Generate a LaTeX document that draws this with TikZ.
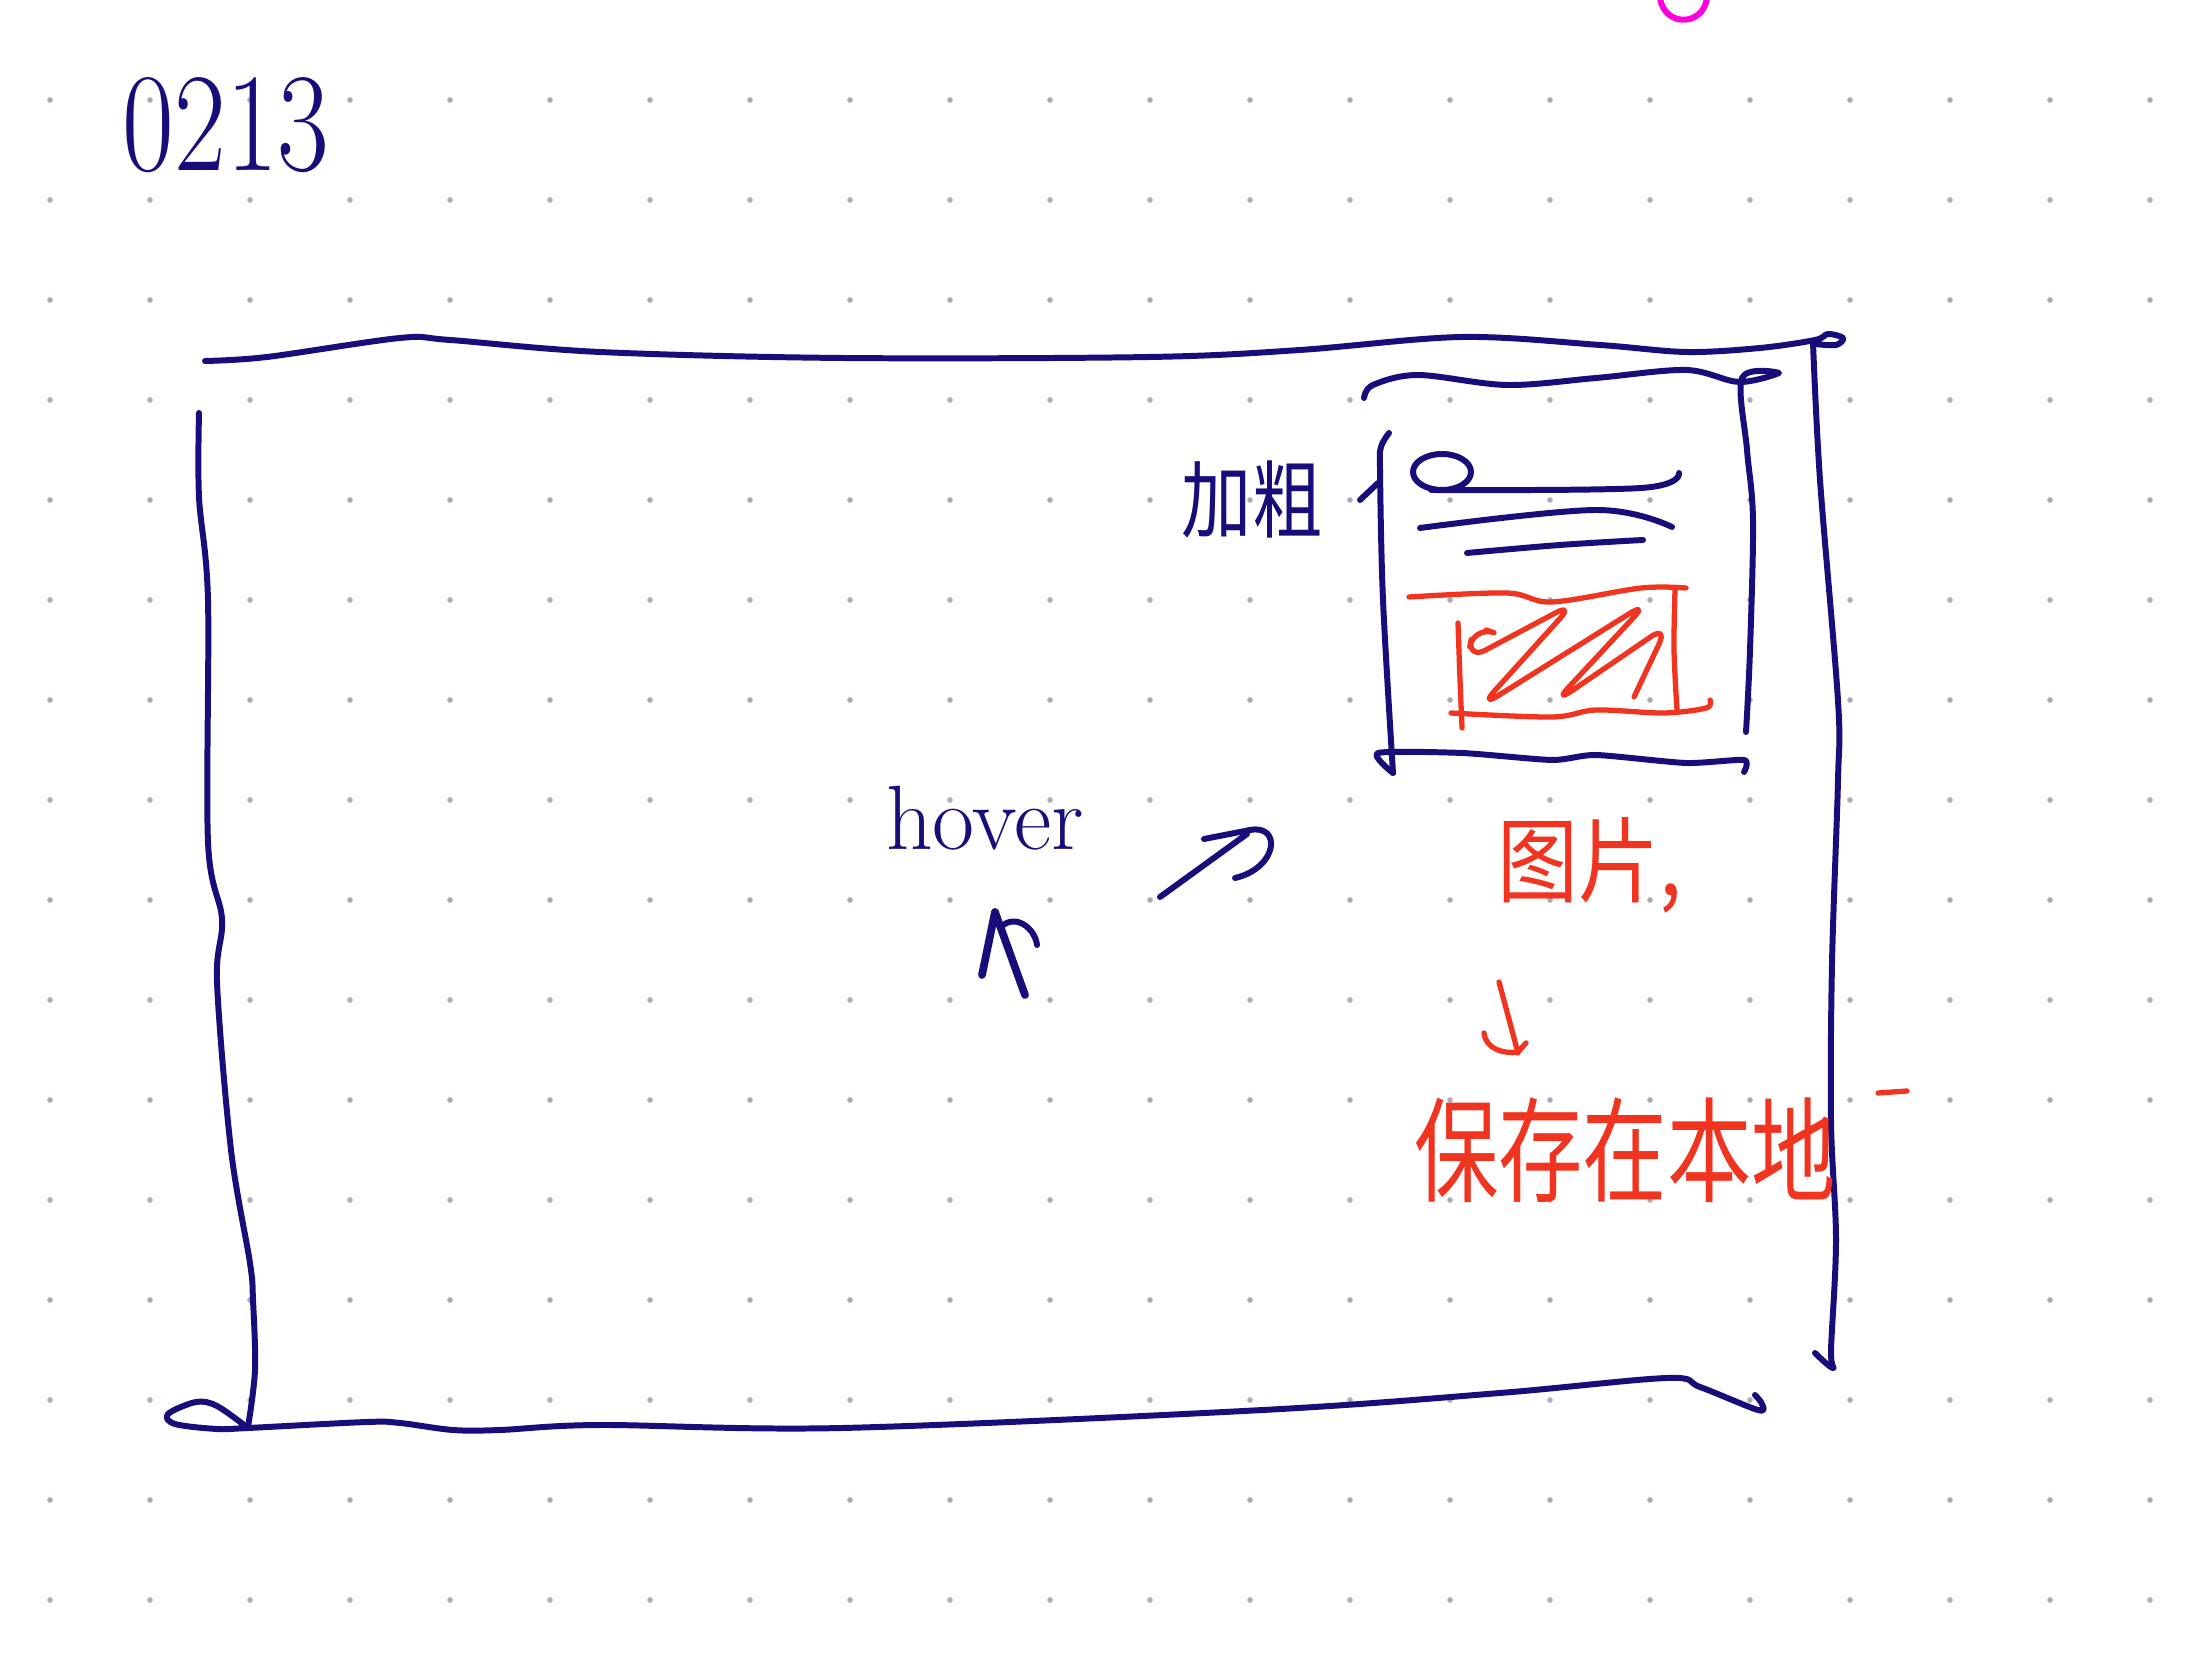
\documentclass[tikz,border=0pt]{standalone}
\usepackage{graphicx}
\usepackage{fontspec}
\newfontfamily\cjk{Noto Sans CJK SC}
\definecolor{inkblue}{RGB}{24,14,122}
\definecolor{inkred}{RGB}{240,52,32}
\definecolor{inkpink}{RGB}{255,0,220}
\definecolor{dotgrey}{RGB}{170,172,184}
\tikzset{
  navyline/.style={draw=inkblue, line width=1.7pt, line cap=round, line join=round},
  redline/.style={draw=inkred, line width=1.5pt, line cap=round, line join=round},
  navytext/.style={text=inkblue, inner sep=0pt},
  redtext/.style={text=inkred, inner sep=0pt},
}
\begin{document}
\begin{tikzpicture}[x=0.01cm,y=-0.01cm]
\useasboundingbox (0,0) rectangle (2200,1677);
\fill[white] (0,0) rectangle (2200,1677);
% dot grid
\foreach \i in {0,...,21}{
  \foreach \j in {1,...,16}{
    \fill[dotgrey] (50+100*\i,100*\j) circle (0.8pt);
  }
}
% magenta arc at top edge
\draw[draw=inkpink, line width=1.7pt] (1660,-2) .. controls (1664,27) and (1703,27) .. (1707,-2);

% date
\node[navytext, font=\fontsize{32}{32}\selectfont] (date) at (226,125) {\scalebox{1}[1.25]{0213}};

% big frame
\draw[navyline] plot[smooth, tension=0.55] coordinates {(205,361) (267,357) (400,338) (450,340) (600,352) (842,358) (1150,357) (1300,350) (1462,337) (1600,345) (1686,352) (1760,348) (1815,340) (1828,334) (1843,338) (1836,345) (1815,344)};
\draw[navyline] plot[smooth, tension=0.55] coordinates {(1813,343) (1820,480) (1838,701) (1838,780) (1832,963) (1831,1122) (1836,1240) (1831,1350) (1833,1368) (1815,1353)};
\draw[navyline] plot[smooth, tension=0.55] coordinates {(199,413) (199,497) (208,600) (208,842) (222,919) (217,982) (231,1150) (250,1263) (253,1300) (255,1370) (248,1427)};
\draw[navyline] plot[smooth, tension=0.55] coordinates {(248,1428) (217,1406) (196,1402) (168,1414) (175,1424) (217,1429) (248,1428) (367,1422) (400,1423) (453,1430) (500,1430) (600,1425) (842,1428) (1263,1410) (1500,1393) (1667,1378) (1700,1387) (1758,1410) (1762,1404) (1755,1395)};

% inner panel
\draw[navyline] plot[smooth, tension=0.55] coordinates {(1364,398) (1373,385) (1418,375) (1507,385) (1596,378) (1686,370) (1739,382) (1779,373) (1742,378) (1747,450) (1753,520) (1750,650) (1746,732)};
\draw[navyline] plot[smooth, tension=0.55] coordinates {(1389,433) (1381,447) (1380,470) (1383,600) (1393,773)};
\draw[navyline] plot[smooth, tension=0.4] coordinates {(1393,773) (1378,753) (1462,753) (1552,760) (1596,755) (1686,763) (1744,760) (1744,772)};
% text lines in panel
\draw[navyline] (1442,472) ellipse [x radius=29, y radius=18];
\draw[navyline] plot[smooth, tension=0.6] coordinates {(1431,490) (1641,488) (1679,473)};
\draw[navyline] plot[smooth, tension=0.6] coordinates {(1420,528) (1596,510) (1672,527)};
\draw[navyline] plot[smooth, tension=0.6] coordinates {(1467,553) (1560,545) (1643,540)};
% picture placeholder (red)
\draw[redline] plot[smooth, tension=0.55] coordinates {(1409,597) (1507,593) (1552,602) (1641,588) (1686,588)};
\draw[redline] plot[smooth, tension=0.55] coordinates {(1675,590) (1674,650) (1677,710)};
\draw[redline] plot[smooth, tension=0.55] coordinates {(1451,713) (1552,717) (1596,710) (1663,713) (1706,708) (1710,700)};
\draw[redline] plot[smooth, tension=0.55] coordinates {(1458,623) (1460,680) (1462,728)};
\draw[redline, rounded corners=6] (1486,630) -- (1474,626) -- (1467,660) -- (1574,603) -- (1480,707) -- (1648,602) -- (1554,703) -- (1668,625) -- (1634,697);

% label 加粗
\node[navytext, font=\cjk\fontsize{20}{20}\selectfont] (boldlbl) at (1252,500) {\scalebox{1}[1.2]{加粗}};
\coordinate (tickA) at (1360,500);
\coordinate (tickB) at (1378,483);
\draw[navyline] (tickA) -- (tickB);

% hover
\node[navytext, font=\fontsize{26}{26}\selectfont] (hover) at (985,818) {hover};
\coordinate (hovA) at (1160,897);
\coordinate (hovB) at (1247,834);
\draw[navyline] (hovA) -- (hovB);
\draw[navyline] (1204,839) -- (1250,830) .. controls (1282,824) and (1278,868) .. (1235,878);
% cursor mark under hover
\coordinate (curL) at (982,975);
\coordinate (curT) at (995,912);
\coordinate (curR) at (1025,995);
\draw[navyline, line width=2.2pt] (curL) -- (curT) -- (curR);
\draw[navyline] (1001,927) .. controls (1015,913) and (1035,928) .. (1037,945);

% 图片 and 保存在本地
\node[redtext, font=\cjk\fontsize{23}{23}\selectfont] (piclbl) at (1590,865) {\scalebox{1}[1.15]{图片,}};
\node[redtext, font=\cjk\fontsize{24}{24}\selectfont] (savelbl) at (1625,1150) {\scalebox{1}[1.35]{保存在本地}};
\coordinate (arrA) at (1499,982);
\coordinate (arrB) at (1518,1053);
\draw[redline] (arrA) -- (arrB);
\draw[redline] (1484,1033) .. controls (1486,1050) and (1505,1054) .. (1518,1052) -- (1526,1043);
\draw[redline] (1878,1093) -- (1907,1091);
\end{tikzpicture}
\end{document}
